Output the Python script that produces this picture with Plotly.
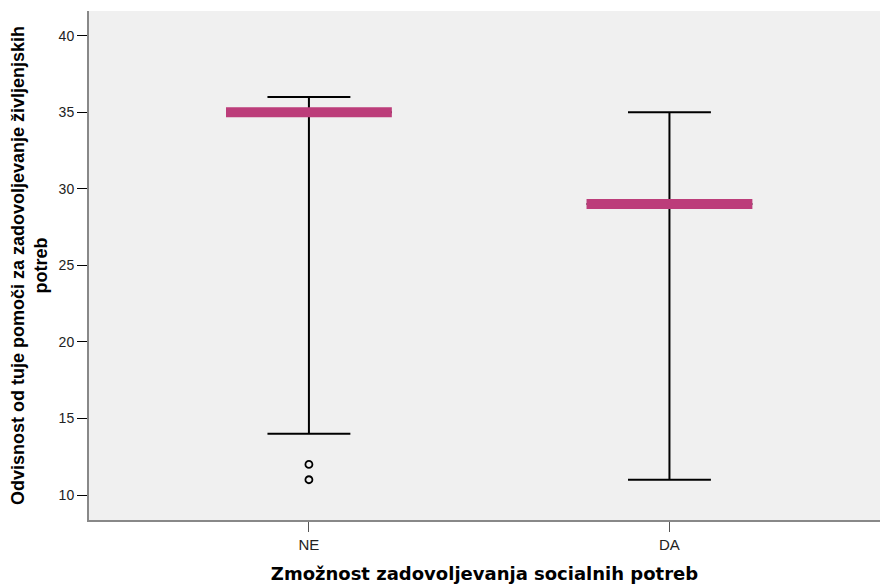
import plotly.graph_objects as go

categories = ["NE", "DA"]
q1 = [35, 29]
median = [35, 29]
q3 = [35, 29]
lower_whisker = [14, 11]
upper_whisker = [36, 35]
outliers_ne = [12, 11]
y_ticks = [10, 15, 20, 25, 30, 35, 40]

box_w = 0.46
pink = "#BC3D7A"
pos = list(range(len(categories)))

fig = go.Figure()
for i in pos:
    fig.add_trace(go.Box(
        x=[i], q1=[q1[i]], median=[median[i]], q3=[q3[i]],
        lowerfence=[lower_whisker[i]], upperfence=[upper_whisker[i]],
        width=box_w, whiskerwidth=0.5, boxpoints=False,
        line=dict(color="black", width=2), fillcolor="rgba(0,0,0,0)",
        showlegend=False, hoverinfo="skip"))
    fig.add_trace(go.Scatter(
        x=[i - box_w / 2, i + box_w / 2], y=[median[i], median[i]],
        mode="lines", line=dict(color=pink, width=10),
        showlegend=False, hoverinfo="skip"))

fig.add_trace(go.Scatter(
    x=[0] * len(outliers_ne), y=outliers_ne, mode="markers",
    marker=dict(symbol="circle-open", size=7, color="black", line=dict(width=1.8)),
    showlegend=False, hoverinfo="skip"))

fig.update_layout(
    width=880, height=584,
    margin=dict(l=89, r=0, t=11, b=64),
    paper_bgcolor="white", plot_bgcolor="#F0F0F0",
    font=dict(family="Liberation Sans, Arial, sans-serif", color="#222"),
)
fig.update_xaxes(
    range=[-0.610, 1.584], tickvals=pos, ticktext=categories,
    showgrid=False, zeroline=False,
    showline=True, linecolor="#888", linewidth=2,
    ticks="outside", ticklen=10, tickcolor="#555", tickwidth=1,
    tickfont=dict(size=15, color="#222"),
    title=dict(text="Zmožnost zadovoljevanja socialnih potreb",
               font=dict(family="DejaVu Sans", size=18, color="black", weight="bold"),
               standoff=17),
)
fig.update_yaxes(
    range=[8.37, 41.61], tickvals=y_ticks,
    showgrid=False, zeroline=False,
    showline=True, linecolor="#888", linewidth=2,
    ticks="outside", ticklen=10, tickcolor="black", tickwidth=1,
    tickfont=dict(size=14, color="#222"),
    title=dict(text="Odvisnost od tuje pomoči za zadovoljevanje življenjskih<br>potreb",
               font=dict(family="Liberation Sans", size=18, color="black", weight="bold"),
               standoff=6),
)

fig.write_html("out.html")
